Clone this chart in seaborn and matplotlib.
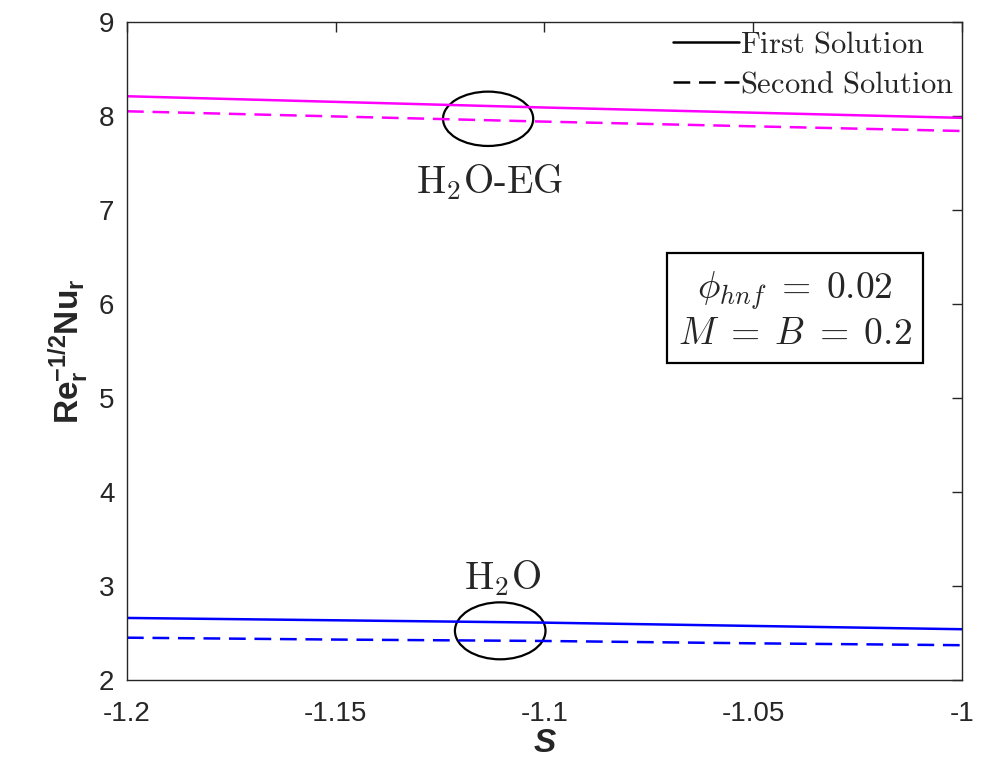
import matplotlib
matplotlib.use("Agg")
import matplotlib.pyplot as plt
from matplotlib.patches import Ellipse
from matplotlib.lines import Line2D
from matplotlib.font_manager import FontProperties
import seaborn as sns
import pandas as pd

# datos
s_vals = [-1.2, -1.15, -1.1, -1.05, -1.0]
eg_first = [8.21, 8.15, 8.09, 8.035, 7.98]
eg_second = [8.05, 7.995, 7.94, 7.89, 7.84]
w_first = [2.66, 2.635, 2.61, 2.575, 2.54]
w_second = [2.45, 2.43, 2.415, 2.39, 2.37]

x_ticks = [-1.2, -1.15, -1.1, -1.05, -1.0]
x_ticklabels = ["-1.2", "-1.15", "-1.1", "-1.05", "-1"]
y_ticks = [2, 3, 4, 5, 6, 7, 8, 9]

sns.set_style("white")
plt.rcParams["font.family"] = ["Liberation Sans", "DejaVu Sans"]
plt.rcParams["mathtext.fontset"] = "cm"
plt.rcParams["mathtext.bf"] = "Liberation Sans:bold"
plt.rcParams["mathtext.rm"] = "Liberation Sans"
plt.rcParams["mathtext.it"] = "Liberation Sans:italic"

# tabla larga para seaborn
rows = []
for fluid, first, second in [("H2O-EG", eg_first, eg_second), ("H2O", w_first, w_second)]:
    for s, v in zip(s_vals, first):
        rows.append({"S": s, "Nu": v, "fluid": fluid, "sol": "First"})
    for s, v in zip(s_vals, second):
        rows.append({"S": s, "Nu": v, "fluid": fluid, "sol": "Second"})
df = pd.DataFrame(rows)

LW = 1.8
DASH = (6.7, 3.5)

fig = plt.figure(figsize=(9.82, 7.63), dpi=100)
ax = fig.add_axes([0.1293, 0.1088, 0.8503, 0.8624])

sns.lineplot(data=df, x="S", y="Nu", hue="fluid", style="sol",
             palette={"H2O-EG": "#ff00ff", "H2O": "#0000ff"},
             dashes={"First": "", "Second": DASH},
             linewidth=LW, legend=False, ax=ax)

ax.set_xlim(-1.2, -1.0)
ax.set_ylim(2, 9)
ax.set_xticks(x_ticks)
ax.set_xticklabels(x_ticklabels)
ax.set_yticks(y_ticks)
ax.tick_params(direction="in", length=7, width=1, top=True, right=True,
               labelsize=20, colors="#262626")
ax.tick_params(axis="x", pad=15)
ax.tick_params(axis="y", pad=9)
for sp in ax.spines.values():
    sp.set_color("#262626")
    sp.set_linewidth(1)

ax.set_xlabel("S", fontsize=24, fontweight="bold", fontstyle="italic", labelpad=1)
ax.set_ylabel(r"$\mathbf{Re}_\mathbf{r}^{\mathbf{-1/2}}\mathbf{Nu}_\mathbf{r}$",
              fontsize=24, math_fontfamily="custom", labelpad=6)

# elipses y etiquetas
ax.add_patch(Ellipse((-1.1135, 7.97), 0.0216, 0.578, fill=False, ec="black", lw=1.6))
ax.add_patch(Ellipse((-1.1106, 2.523), 0.0217, 0.606, fill=False, ec="black", lw=1.6))
ax.text(-1.1131, 7.30, r"$\mathrm{H_2O\text{-}EG}$", fontsize=28, ha="center", va="center")
ax.text(-1.1101, 3.08, r"$\mathrm{H_2O}$", fontsize=28, ha="center", va="center")

ax.text(-1.04, 5.93, "$\\phi_{hnf}\\;=\\;0.02$\n$M\\;=\\;B\\;=\\;0.2$", fontsize=27,
        ha="center", va="center", multialignment="center", linespacing=1.15,
        bbox=dict(boxstyle="square,pad=0.3", fc="white", ec="black", lw=1.6))

handles = [Line2D([], [], color="black", lw=LW),
           Line2D([], [], color="black", lw=LW, dashes=DASH)]
ax.legend(handles, [r"$\mathrm{First\ Solution}$", r"$\mathrm{Second\ Solution}$"],
          loc="upper right", frameon=False, handlelength=2.15, handletextpad=0.05,
          labelspacing=0.33, borderaxespad=0.1, borderpad=0.15,
          prop=FontProperties(size=22, math_fontfamily="cm"), labelcolor="#262626")

fig.savefig("out.png", dpi=100)
